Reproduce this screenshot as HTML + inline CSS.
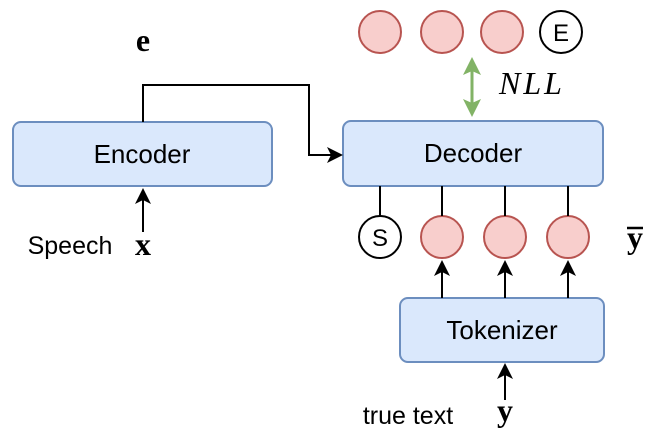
<!DOCTYPE html>
<html><head><style>html,body{margin:0;padding:0;background:#fff}</style></head><body>
<svg width="649" height="441" xmlns="http://www.w3.org/2000/svg" font-family="Liberation Sans, sans-serif">
<g fill="#f8cecc" stroke="#b85450" stroke-width="2">
<circle cx="380" cy="32" r="21"/><circle cx="442" cy="32" r="21"/><circle cx="502" cy="32" r="21"/>
<circle cx="442" cy="237" r="21"/><circle cx="505" cy="237" r="21"/><circle cx="568" cy="237" r="21"/>
</g>
<g fill="#fff" stroke="#000" stroke-width="2">
<circle cx="561" cy="32" r="21"/><circle cx="380" cy="237" r="21"/>
</g>
<text x="561" y="41" font-size="24" text-anchor="middle">E</text>
<text x="380" y="246" font-size="24" text-anchor="middle">S</text>
<g fill="#dae8fc" stroke="#6c8ebf" stroke-width="2">
<rect x="13" y="122" width="259" height="64" rx="8"/>
<rect x="343" y="121" width="260" height="65" rx="8"/>
<rect x="400" y="298" width="204" height="64" rx="8"/>
</g>
<g font-size="26" text-anchor="middle" fill="#000">
<text x="142" y="163">Encoder</text>
<text x="473" y="162">Decoder</text>
<text x="502" y="339">Tokenizer</text>
<text x="70" y="254" font-size="25">Speech</text>
<text x="408" y="424" font-size="25">true text</text>
</g>
<g stroke="#000" stroke-width="2" fill="none">
<path d="M143 122 V85 H309 V155 H334"/>
<path d="M143 232 V198"/>
<path d="M505 400 V372"/>
<path d="M442 298 V270"/>
<path d="M505 298 V270"/>
<path d="M568 298 V270"/>
<path d="M380 186 V216 M442 186 V216 M505 186 V216 M568 186 V216"/>
</g>
<g fill="#000">
<path d="M343 155 L327 147 L331 155 L327 163 z"/>
<path d="M143 188 L135 204 L143 200 L151 204 z"/>
<path d="M505 363 L497 379 L505 375 L513 379 z"/>
<path d="M442 260 L434 276 L442 272 L450 276 z"/>
<path d="M505 260 L497 276 L505 272 L513 276 z"/>
<path d="M568 260 L560 276 L568 272 L576 276 z"/>
</g>
<path d="M472 68 V106" stroke="#82b366" stroke-width="3"/>
<path d="M472 57 L463 75 L472 71 L481 75 z M472 117 L463 99 L472 103 L481 99 z" fill="#82b366"/>
<g font-family="Liberation Serif, serif" fill="#000">
<text x="143" y="51" font-size="32" font-weight="bold" text-anchor="middle">e</text>
<text x="143" y="255" font-size="32" font-weight="bold" text-anchor="middle">x</text>
<text x="505" y="421" font-size="32" font-weight="bold" text-anchor="middle">y</text>
<text x="635" y="248" font-size="32" font-weight="bold" text-anchor="middle">y</text>
<text x="532" y="94" font-size="32" font-style="italic" text-anchor="middle" letter-spacing="3">NLL</text>
</g>
<line x1="627" y1="228" x2="643" y2="228" stroke="#000" stroke-width="2.5"/>
</svg>
</body></html>
